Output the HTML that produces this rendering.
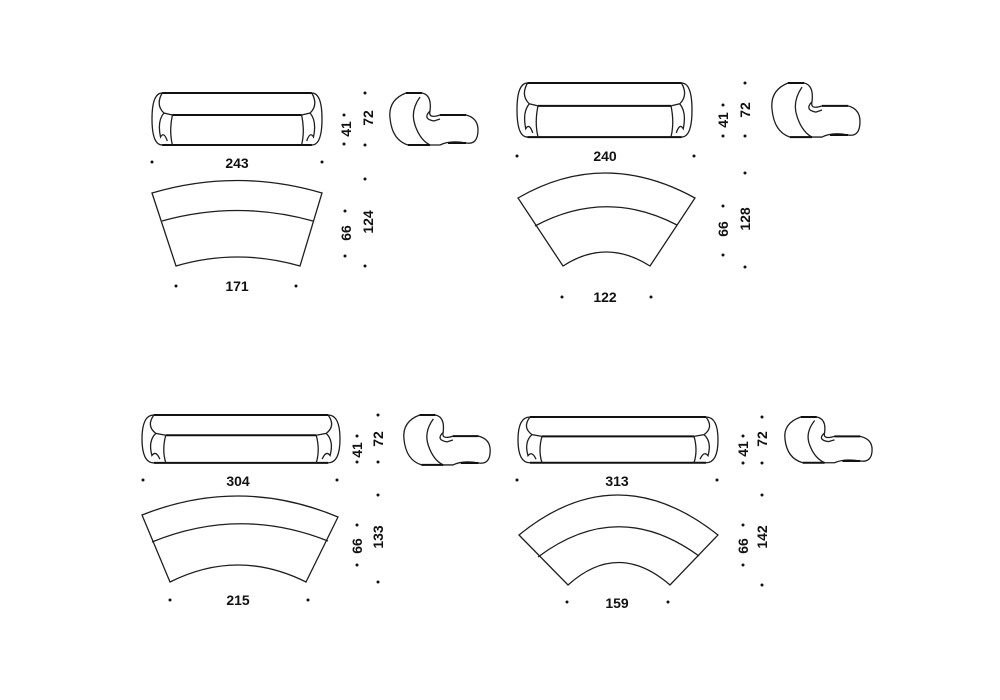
<!DOCTYPE html>
<html><head><meta charset="utf-8"><style>
html,body{margin:0;padding:0;background:#fff;width:1000px;height:700px;overflow:hidden}
svg{display:block}
.l{fill:none;stroke:#1e1e1e;stroke-width:1.3;vector-effect:non-scaling-stroke}
.t{fill:none;stroke:#111;stroke-width:2;vector-effect:non-scaling-stroke}
text{font-family:"Liberation Sans",sans-serif;font-weight:bold;font-size:14px;fill:#111}
</style></head><body>
<svg width="1000" height="700" viewBox="0 0 1000 700" xmlns="http://www.w3.org/2000/svg">
<defs>
<g id="front">
<path class="l" d="M12,0 L188,0 Q200,0 200,26 Q200,52 188,52 L12,52 Q0,52 0,26 Q0,0 12,0 Z"/>
<path class="t" d="M12,0 L188,0"/>
<path class="t" d="M12,52 L188,52"/>
<path class="t" d="M24,22 L176,22"/>
<path class="l" d="M24,22 Q20,38 24,52 M176,22 Q180,38 176,52"/>
<path class="l" d="M12,0 Q4,12 14,20 Q24,22 24,22 M14,20 Q6,28 10,44 Q14,38 18,48"/>
<path class="l" d="M188,0 Q196,12 186,20 Q176,22 176,22 M186,20 Q194,28 190,44 Q186,38 182,48"/>
</g>
<g id="side">
<path class="l" d="M18,0 L34,0 Q44,2 42,18 Q40,26 52,22 L78,22 Q90,25 90,37 Q90,52 78,50 Q62,47 52,52 L20,52 Q4,47 2,25 Q0,7 18,0 Z"/>
<path class="l" d="M32,4 Q22,18 27,32 Q32,47 42,52"/>
<path class="l" d="M42,18 Q34,26 46,28 L52,26"/>
<path class="t" d="M18,0 L34,0 M20,52 L42,52 M60,50 L78,50 M52,22 L78,22"/>
</g>
</defs>

<!-- Block 1 -->
<use href="#front" transform="translate(152,93) scale(0.85,1)"/>
<use href="#side" transform="translate(388,93)"/>
<path class="l" d="M152,193 Q237,168 322,193 L300,266 Q237,248 176,266 Z"/>
<path class="l" d="M162,221 Q237,200 313,221"/>
<text x="237" y="168" text-anchor="middle">243</text>
<text x="237" y="291" text-anchor="middle">171</text>
<text transform="translate(351,129) rotate(-90)" text-anchor="middle">41</text>
<text transform="translate(373,118) rotate(-90)" text-anchor="middle">72</text>
<text transform="translate(351,233) rotate(-90)" text-anchor="middle">66</text>
<text transform="translate(373,222) rotate(-90)" text-anchor="middle">124</text>
<g fill="#111">
<circle cx="152" cy="162" r="1.5"/><circle cx="322" cy="162" r="1.5"/>
<circle cx="176" cy="286" r="1.5"/><circle cx="296" cy="286" r="1.5"/>
<circle cx="344" cy="115" r="1.5"/><circle cx="344" cy="144" r="1.5"/>
<circle cx="365" cy="93" r="1.5"/><circle cx="365" cy="145" r="1.5"/>
<circle cx="365" cy="179" r="1.5"/><circle cx="365" cy="266" r="1.5"/>
<circle cx="345" cy="211" r="1.5"/><circle cx="345" cy="256" r="1.5"/>
</g>

<!-- Block 2 -->
<use href="#front" transform="translate(517,83) scale(0.875,1.04)"/>
<use href="#side" transform="translate(770,83) scale(1,1.04)"/>
<path class="l" d="M518,198 Q604,148 695,198 L650,266 Q606,238 563,266 Z"/>
<path class="l" d="M535,226 Q606,188 677,225"/>
<text x="605" y="161" text-anchor="middle">240</text>
<text x="605" y="302" text-anchor="middle">122</text>
<text transform="translate(728,120) rotate(-90)" text-anchor="middle">41</text>
<text transform="translate(750,110) rotate(-90)" text-anchor="middle">72</text>
<text transform="translate(728,229) rotate(-90)" text-anchor="middle">66</text>
<text transform="translate(750,219) rotate(-90)" text-anchor="middle">128</text>
<g fill="#111">
<circle cx="517" cy="156" r="1.5"/><circle cx="694" cy="156" r="1.5"/>
<circle cx="562" cy="297" r="1.5"/><circle cx="651" cy="297" r="1.5"/>
<circle cx="723" cy="105" r="1.5"/><circle cx="723" cy="136" r="1.5"/>
<circle cx="745" cy="83" r="1.5"/><circle cx="745" cy="136" r="1.5"/>
<circle cx="745" cy="173" r="1.5"/><circle cx="745" cy="267" r="1.5"/>
<circle cx="723" cy="206" r="1.5"/><circle cx="723" cy="255" r="1.5"/>
</g>

<!-- Block 3 -->
<use href="#front" transform="translate(142,415) scale(0.99,0.92)"/>
<use href="#side" transform="translate(402,415) scale(0.98,0.96)"/>
<path class="l" d="M142,515 Q240,476 338,517 L306,582 Q238,548 170,582 Z"/>
<path class="l" d="M152,542 Q240,506 328,541"/>
<text x="238" y="486" text-anchor="middle">304</text>
<text x="238" y="605" text-anchor="middle">215</text>
<text transform="translate(362,450) rotate(-90)" text-anchor="middle">41</text>
<text transform="translate(383,439) rotate(-90)" text-anchor="middle">72</text>
<text transform="translate(362,546) rotate(-90)" text-anchor="middle">66</text>
<text transform="translate(383,537) rotate(-90)" text-anchor="middle">133</text>
<g fill="#111">
<circle cx="143" cy="480" r="1.5"/><circle cx="337" cy="480" r="1.5"/>
<circle cx="170" cy="600" r="1.5"/><circle cx="308" cy="600" r="1.5"/>
<circle cx="357" cy="436" r="1.5"/><circle cx="357" cy="462" r="1.5"/>
<circle cx="378" cy="415" r="1.5"/><circle cx="378" cy="462" r="1.5"/>
<circle cx="378" cy="495" r="1.5"/><circle cx="378" cy="582" r="1.5"/>
<circle cx="357" cy="525" r="1.5"/><circle cx="357" cy="565" r="1.5"/>
</g>

<!-- Block 4 -->
<use href="#front" transform="translate(518,417) scale(1.0,0.88)"/>
<use href="#side" transform="translate(783,417) scale(0.99,0.88)"/>
<path class="l" d="M519,535 Q617,455 718,535 L670,585 Q618,540 568,585 Z"/>
<path class="l" d="M538,557 Q618,497 699,556"/>
<text x="617" y="486" text-anchor="middle">313</text>
<text x="617" y="608" text-anchor="middle">159</text>
<text transform="translate(748,449) rotate(-90)" text-anchor="middle">41</text>
<text transform="translate(767,439) rotate(-90)" text-anchor="middle">72</text>
<text transform="translate(748,546) rotate(-90)" text-anchor="middle">66</text>
<text transform="translate(767,537) rotate(-90)" text-anchor="middle">142</text>
<g fill="#111">
<circle cx="517" cy="480" r="1.5"/><circle cx="717" cy="480" r="1.5"/>
<circle cx="567" cy="602" r="1.5"/><circle cx="668" cy="602" r="1.5"/>
<circle cx="743" cy="436" r="1.5"/><circle cx="743" cy="463" r="1.5"/>
<circle cx="762" cy="417" r="1.5"/><circle cx="762" cy="463" r="1.5"/>
<circle cx="762" cy="495" r="1.5"/><circle cx="762" cy="585" r="1.5"/>
<circle cx="743" cy="525" r="1.5"/><circle cx="743" cy="565" r="1.5"/>
</g>
</svg>
</body></html>
